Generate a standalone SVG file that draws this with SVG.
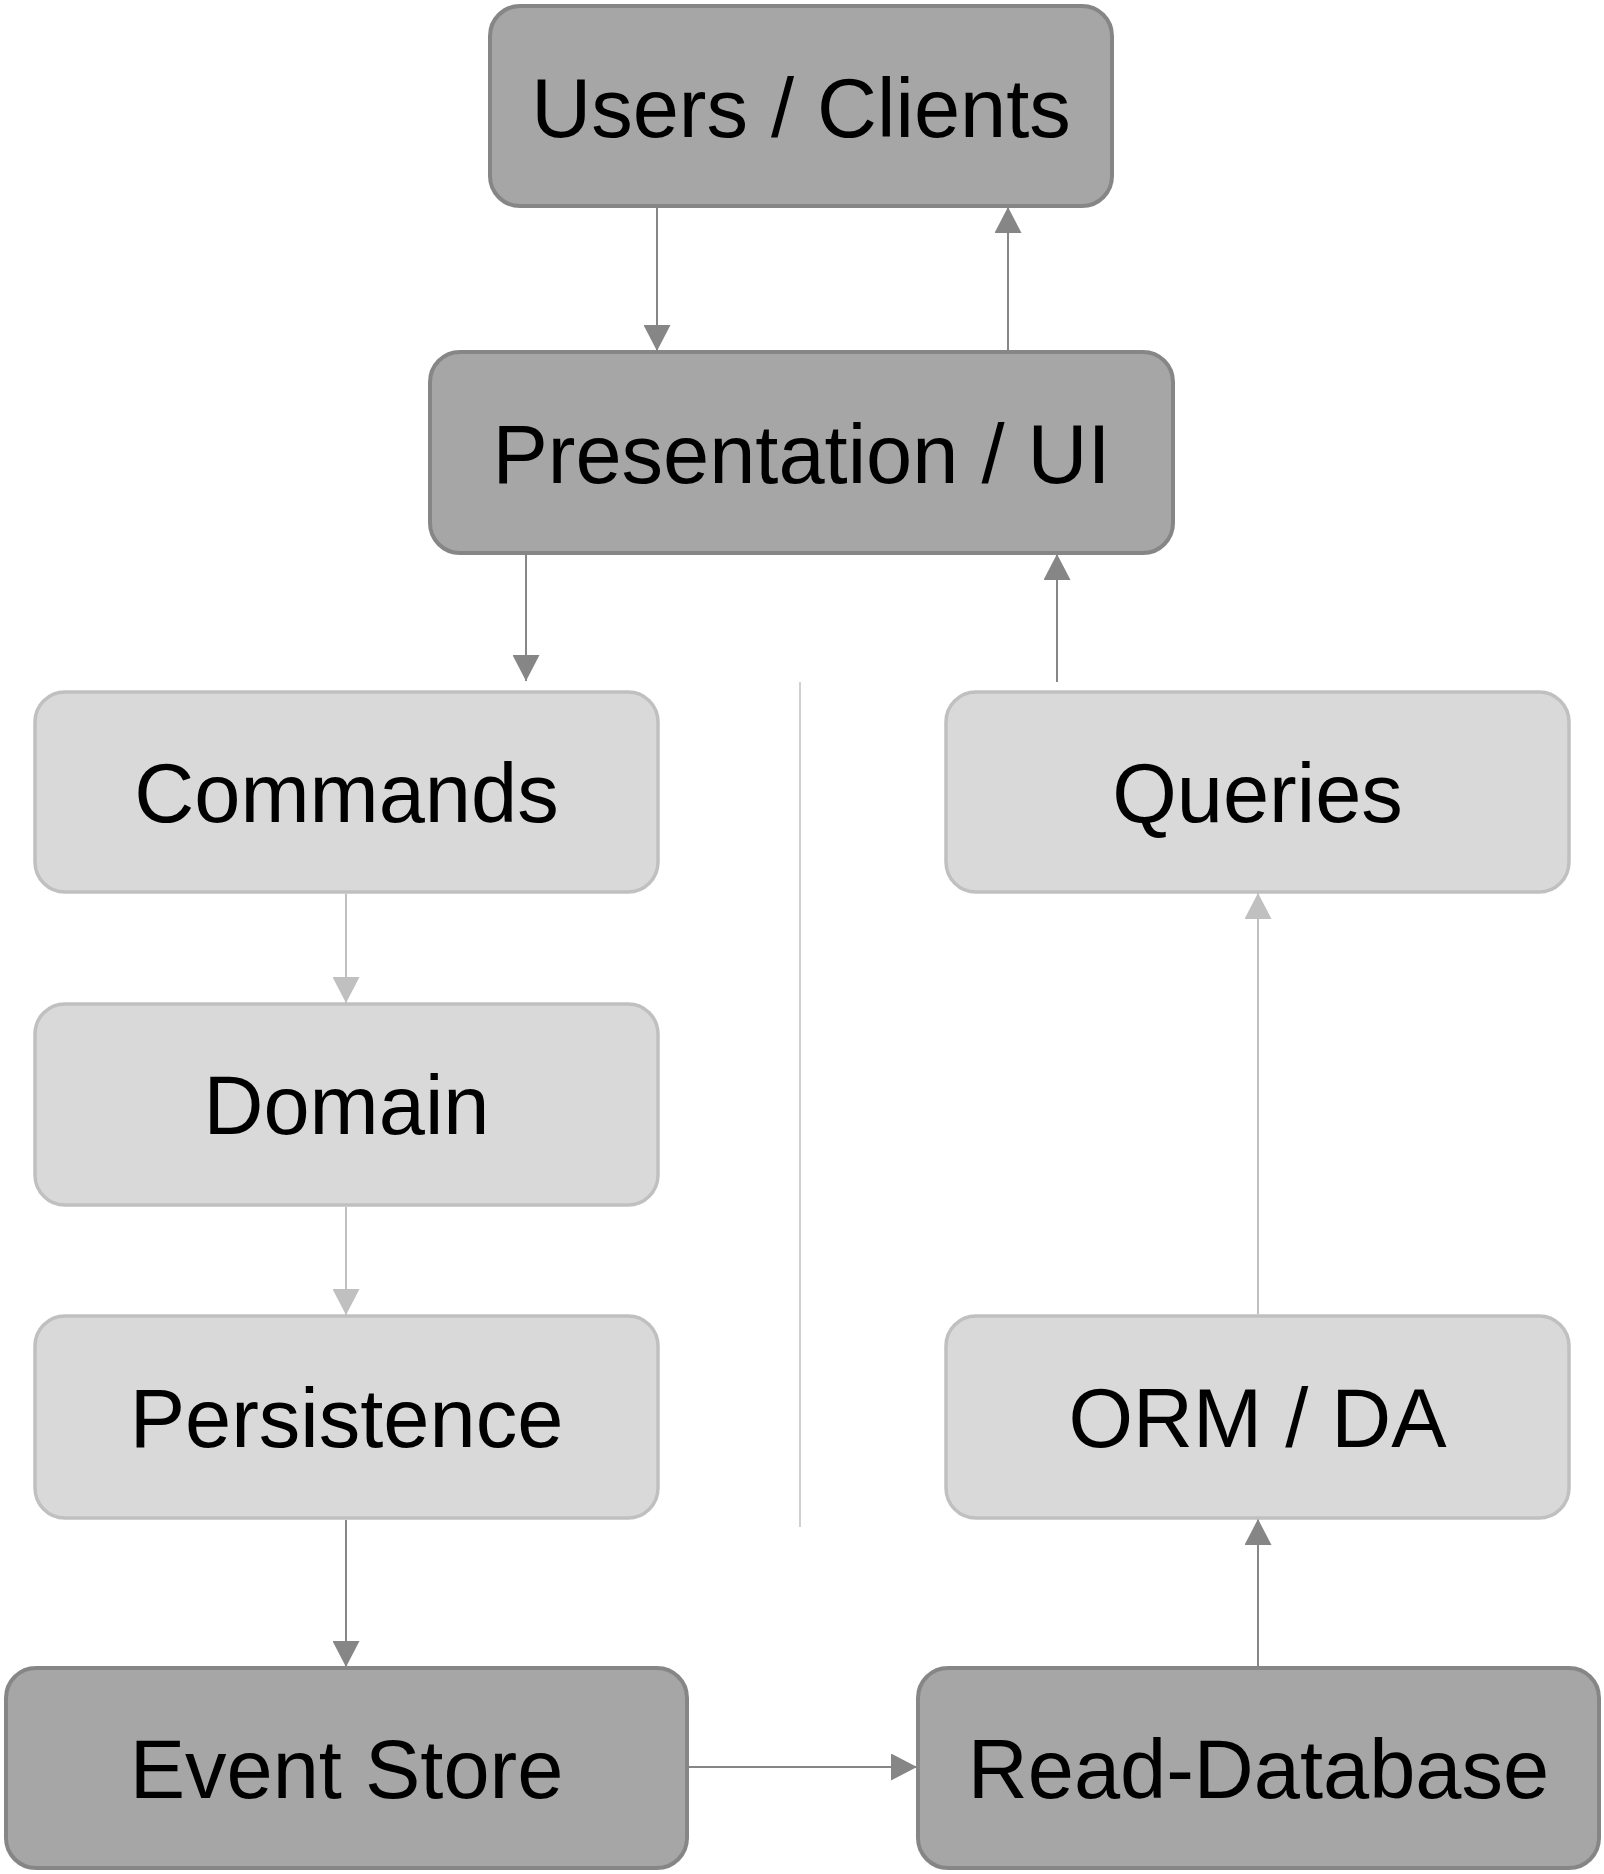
<svg xmlns="http://www.w3.org/2000/svg" width="1604" height="1874" viewBox="0 0 1604 1874">
<style>
  .dark rect { fill: #a6a6a6; stroke: #868686; stroke-width: 4; }
  .light rect { fill: #d9d9d9; stroke: #c0c0c0; stroke-width: 3.5; }
  text { font-family: "Liberation Sans", Arial, sans-serif; font-size: 83px; fill: #000; text-anchor: middle; }
  .cd { stroke: #868686; stroke-width: 2; fill: none; marker-end: url(#ad); }
  .cl { stroke: #c0c0c0; stroke-width: 2; fill: none; marker-end: url(#al); }
  .div { stroke: #d0d0d0; stroke-width: 2; fill: none; }
</style>
<defs>
  <marker id="ad" markerUnits="userSpaceOnUse" markerWidth="27" markerHeight="27" refX="26" refY="13.5" orient="auto" viewBox="0 0 27 27">
    <path d="M0,0 L26,13.5 L0,27 Z" fill="#868686"/>
  </marker>
  <marker id="al" markerUnits="userSpaceOnUse" markerWidth="27" markerHeight="27" refX="26" refY="13.5" orient="auto" viewBox="0 0 27 27">
    <path d="M0,0 L26,13.5 L0,27 Z" fill="#c0c0c0"/>
  </marker>
</defs>
<rect width="1604" height="1874" fill="#ffffff"/>
<g id="connectors">
  <line class="cd" x1="657" y1="208" x2="657" y2="351"/>
  <line class="cd" x1="1008" y1="351" x2="1008" y2="207"/>
  <line class="cd" x1="526" y1="555" x2="526" y2="681"/>
  <line class="cd" x1="1057" y1="682" x2="1057" y2="554"/>
  <line class="cl" x1="346" y1="894" x2="346" y2="1003"/>
  <line class="cl" x1="346" y1="1207" x2="346" y2="1315"/>
  <line class="cd" x1="346" y1="1520" x2="346" y2="1667"/>
  <line class="cd" x1="689" y1="1767" x2="917" y2="1767"/>
  <line class="cd" x1="1258" y1="1666" x2="1258" y2="1519"/>
  <line class="cl" x1="1258" y1="1314" x2="1258" y2="893"/>
  <line class="div" x1="800" y1="682" x2="800" y2="1527"/>
</g>
<g id="users" class="dark">
  <rect x="490" y="6" width="622" height="200" rx="30"/>
  <text x="801" y="137">Users / Clients</text>
</g>
<g id="presentation" class="dark">
  <rect x="430" y="352" width="743" height="201" rx="30"/>
  <text x="801.5" y="483">Presentation / UI</text>
</g>
<g id="commands" class="light">
  <rect x="35" y="692" width="623" height="200" rx="30"/>
  <text x="346.5" y="822">Commands</text>
</g>
<g id="domain" class="light">
  <rect x="35" y="1004" width="623" height="201" rx="30"/>
  <text x="346.5" y="1134">Domain</text>
</g>
<g id="persistence" class="light">
  <rect x="35" y="1316" width="623" height="202" rx="30"/>
  <text x="346.5" y="1447">Persistence</text>
</g>
<g id="event-store" class="dark">
  <rect x="6" y="1668" width="681" height="200" rx="30"/>
  <text x="346.5" y="1798">Event Store</text>
</g>
<g id="queries" class="light">
  <rect x="946" y="692" width="623" height="200" rx="30"/>
  <text x="1257.5" y="822">Queries</text>
</g>
<g id="orm" class="light">
  <rect x="946" y="1316" width="623" height="202" rx="30"/>
  <text x="1257.5" y="1447">ORM / DA</text>
</g>
<g id="read-database" class="dark">
  <rect x="918" y="1668" width="681" height="200" rx="30"/>
  <text x="1258.5" y="1798">Read-Database</text>
</g>
</svg>
